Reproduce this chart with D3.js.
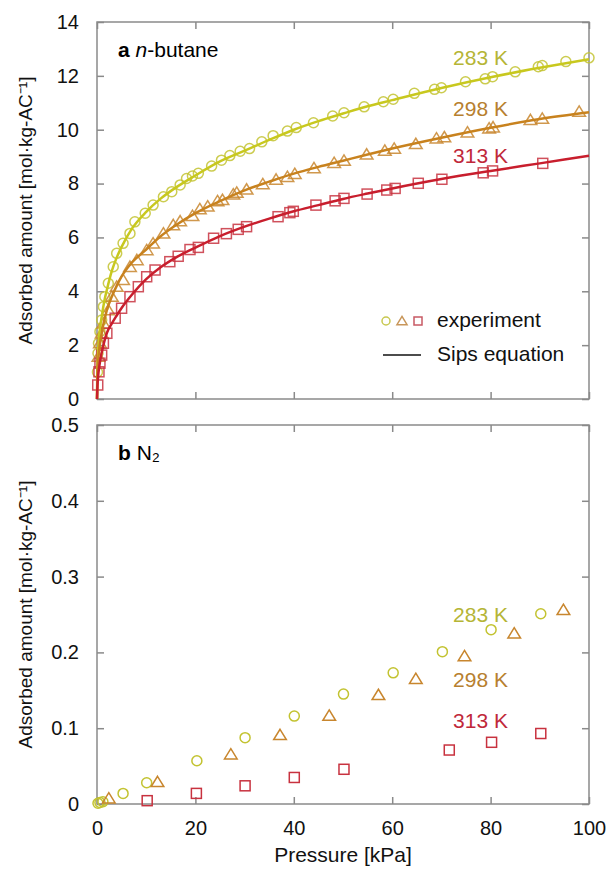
<!DOCTYPE html>
<html>
<head>
<meta charset="utf-8">
<script src="https://cdn.jsdelivr.net/npm/d3@7"></script>
<style>
  body { margin: 0; background: #fff; }
  svg { font-family: "Liberation Sans", Arial, sans-serif; }
</style>
</head>
<body>
<div class="grafico"></div>
<script>
// n-butane, experiment [P kPa, q mol/kg]
var butane283 = [[0.1,1.0],[0.2,1.7],[0.3,2.07],[0.6,2.5],[0.95,2.93],[1.3,3.43],[1.6,3.8],[2.3,4.3],[3.3,4.91],[4.0,5.41],[5.3,5.78],[6.7,6.15],[7.7,6.58],[9.8,6.9],[11.4,7.2],[13.5,7.51],[15.2,7.7],[16.9,7.95],[18.2,8.19],[19.4,8.28],[20.6,8.38],[23.3,8.65],[25.3,8.87],[27.0,9.04],[29.1,9.2],[31.0,9.3],[33.5,9.55],[35.8,9.78],[38.7,9.95],[40.5,10.08],[44.0,10.26],[47.9,10.51],[50.2,10.63],[54.3,10.85],[58.2,11.04],[60.2,11.13],[64.5,11.35],[68.6,11.5],[70.0,11.56],[74.9,11.78],[78.9,11.89],[80.4,11.97],[85.0,12.15],[89.7,12.34],[90.5,12.38],[95.3,12.53],[100,12.67]];
var butane298 = [[0.3,1.57],[0.6,2.07],[0.95,2.44],[1.3,2.81],[2.3,3.3],[3.0,3.8],[4.0,4.17],[5.3,4.42],[6.7,4.91],[8.1,5.16],[10.1,5.53],[11.4,5.78],[13.5,6.15],[15.5,6.46],[16.9,6.6],[19.4,6.8],[20.9,7.05],[22.5,7.15],[24.5,7.35],[25.5,7.39],[27.7,7.6],[28.4,7.66],[30.4,7.78],[33.7,7.98],[36.4,8.15],[38.7,8.25],[40.2,8.36],[44.1,8.57],[48.2,8.77],[50.2,8.85],[54.8,9.08],[58.5,9.22],[60.4,9.3],[64.8,9.47],[69.0,9.68],[70.6,9.72],[75.3,9.9],[79.7,10.05],[80.5,10.09],[88.1,10.36],[90.5,10.41],[98.0,10.67]];
var butane313 = [[0.15,0.52],[0.4,1.01],[0.6,1.33],[0.95,1.63],[1.3,2.07],[2.0,2.44],[3.7,3.0],[5.0,3.37],[6.7,3.8],[8.4,4.17],[10.1,4.54],[11.8,4.79],[14.8,5.1],[16.5,5.3],[18.9,5.55],[20.6,5.63],[23.7,5.97],[26.3,6.14],[28.7,6.3],[30.4,6.4],[36.8,6.77],[39.2,6.92],[39.9,6.97],[44.5,7.2],[48.4,7.36],[50.2,7.45],[54.9,7.61],[58.9,7.76],[60.6,7.82],[65.3,8.01],[70.1,8.16],[78.5,8.4],[80.4,8.47],[90.6,8.75]];

// Sips equation curves
var sips283 = [[0,0],[0.05,0.9],[0.2,1.7],[0.5,2.45],[1,3.1],[1.5,3.65],[2,4.05],[3,4.75],[4,5.25],[5,5.65],[7,6.3],[10,6.95],[13,7.45],[16,7.85],[20,8.3],[25,8.82],[30,9.22],[35,9.62],[40,10.0],[45,10.32],[50,10.6],[55,10.87],[60,11.1],[70,11.55],[80,11.95],[90,12.3],[100,12.62]];
var sips298 = [[0,0],[0.1,1.0],[0.3,1.55],[0.6,2.05],[1,2.5],[2,3.3],[3,3.8],[4,4.2],[5,4.55],[7,5.05],[10,5.55],[13,6.05],[16,6.45],[20,6.9],[25,7.35],[30,7.75],[35,8.07],[40,8.37],[45,8.62],[50,8.85],[55,9.08],[60,9.3],[70,9.7],[80,10.07],[90,10.4],[100,10.65]];
var sips313 = [[0,0],[0.1,0.5],[0.5,1.25],[1,1.75],[2,2.45],[3,2.8],[4,3.1],[5,3.38],[7,3.85],[10,4.45],[13,4.9],[16,5.25],[20,5.62],[25,6.05],[30,6.4],[35,6.7],[40,6.97],[45,7.2],[50,7.43],[55,7.63],[60,7.82],[70,8.17],[80,8.47],[90,8.75],[100,9.03]];

// N2, experiment
var n2_283 = [[0.2,0.001],[0.6,0.002],[1.2,0.003],[5.3,0.014],[10.1,0.028],[20.3,0.057],[30.1,0.0875],[40.1,0.116],[50.1,0.145],[60.2,0.173],[70.2,0.201],[80.1,0.230],[90.2,0.251]];
var n2_298 = [[2.4,0.0075],[12.3,0.029],[27.2,0.0655],[37.2,0.091],[47.2,0.1165],[57.2,0.1438],[64.8,0.165],[74.7,0.195],[84.8,0.225],[94.8,0.256]];
var n2_313 = [[10.2,0.0044],[20.2,0.014],[30.1,0.024],[40.1,0.035],[50.2,0.0458],[71.6,0.0712],[80.2,0.0814],[90.2,0.093]];

var temps = ["283 K", "298 K", "313 K"];
var xTicks = [0, 20, 40, 60, 80, 100];
var yTicksA = [0, 2, 4, 6, 8, 10, 12, 14];
var yTicksB = [0, 0.1, 0.2, 0.3, 0.4, 0.5];

var width = 608, height = 869;
var left = 97, right = 589;

var svg = d3.select(".grafico").append("svg")
  .attr("width", width)
  .attr("height", height);

var x = d3.scaleLinear().domain([0, 100]).range([left, right]);
var yA = d3.scaleLinear().domain([0, 14]).range([399, 22]);
var yB = d3.scaleLinear().domain([0, 0.5]).range([804, 425]);

var markerCol = ["#c3c331", "#c8862e", "#c8323f"];
var lineCol = ["#c8c81e", "#c8821e", "#c81e2d"];
var textCol = ["#b5b536", "#b7802f", "#c0283a"];
var frameCol = "#8a8a8a";

// frame + ticks for a panel
function drawFrame(y, yTicks, top, bottom, withXLabels) {
  var fmt = function(d){ return d === 0 ? "0" : (y === yB ? d3.format(".1f")(d) : d); };
  var g = svg.append("g");
  g.append("g").attr("transform", "translate(0," + bottom + ")")
    .call(d3.axisBottom(x).tickValues(xTicks).tickSize(-7).tickPadding(17)
      .tickFormat(withXLabels ? d3.format("d") : ""));
  g.append("g").attr("transform", "translate(0," + top + ")")
    .call(d3.axisTop(x).tickValues(xTicks).tickSize(-7).tickFormat(""));
  g.append("g").attr("transform", "translate(" + left + ",0)")
    .call(d3.axisLeft(y).tickValues(yTicks).tickSize(-7).tickPadding(18).tickFormat(fmt));
  g.append("g").attr("transform", "translate(" + right + ",0)")
    .call(d3.axisRight(y).tickValues(yTicks).tickSize(-7).tickFormat(""));
  g.selectAll(".domain").remove();
  g.selectAll(".tick line").attr("stroke", frameCol).attr("stroke-width", 1.5);
  g.selectAll(".tick text").attr("font-size", 20).attr("fill", "#111")
    .attr("font-family", "Liberation Sans, Arial, sans-serif");
  g.append("rect")
    .attr("x", left).attr("y", top)
    .attr("width", right - left).attr("height", bottom - top)
    .attr("fill", "none").attr("stroke", frameCol).attr("stroke-width", 1.5);
}

drawFrame(yA, yTicksA, 22, 399, false);
drawFrame(yB, yTicksB, 425, 804, true);

// markers
function marker(sel, kind, size) {
  if (kind === 0) {
    sel.append("circle").attr("r", size);
  } else if (kind === 1) {
    var s = size * 1.15;
    sel.append("path").attr("d", "M0," + (-s) + "L" + (s * 1.1) + "," + (s * 0.8) + "L" + (-s * 1.1) + "," + (s * 0.8) + "Z");
  } else {
    sel.append("rect").attr("x", -size).attr("y", -size).attr("width", 2 * size).attr("height", 2 * size);
  }
}

function drawPoints(data, y, kind, col, opacity) {
  var g = svg.append("g");
  data.forEach(function(d){
    var m = g.append("g").attr("transform", "translate(" + x(d[0]) + "," + y(d[1]) + ")");
    marker(m, kind, 5);
    m.selectAll("*").attr("fill", "none").attr("stroke", col)
      .attr("stroke-width", 1.5).attr("stroke-opacity", opacity);
  });
}

var line = function(y) {
  return d3.line().x(function(d){ return x(d[0]); }).y(function(d){ return y(d[1]); })
    .curve(d3.curveMonotoneX);
};

// panel a
[butane283, butane298, butane313].forEach(function(s, i){ drawPoints(s, yA, i, markerCol[i], 0.85); });
[sips283, sips298, sips313].forEach(function(s, i){
  svg.append("path").datum(s).attr("d", line(yA))
    .attr("fill", "none").attr("stroke", lineCol[i]).attr("stroke-width", 2.5);
});

// panel b
[n2_283, n2_298, n2_313].forEach(function(s, i){ drawPoints(s, yB, i, markerCol[i], 1); });

// temperature labels
var labA = [65, 116, 163], labB = [622, 687, 728];
temps.forEach(function(t, i){
  svg.append("text").attr("x", 508).attr("y", labA[i]).attr("text-anchor", "end")
    .attr("font-size", 21).attr("fill", textCol[i]).text(t);
  svg.append("text").attr("x", 508).attr("y", labB[i]).attr("text-anchor", "end")
    .attr("font-size", 21).attr("fill", textCol[i]).text(t);
});

// panel titles
var ta = svg.append("text").attr("x", 118).attr("y", 57).attr("font-size", 21);
ta.append("tspan").attr("font-weight", "bold").text("a ");
ta.append("tspan").attr("font-style", "italic").text("n");
ta.append("tspan").text("-butane");
var tb = svg.append("text").attr("x", 118).attr("y", 460).attr("font-size", 21);
tb.append("tspan").attr("font-weight", "bold").text("b ");
tb.append("tspan").text("N\u2082");

// legend
var legCols = ["#c8c850", "#c8965a", "#c85a64"];
[386, 402, 418].forEach(function(lx, i){
  var m = svg.append("g").attr("transform", "translate(" + lx + "," + 321 + ")");
  marker(m, i, 4);
  m.selectAll("*").attr("fill", "none").attr("stroke", legCols[i]).attr("stroke-width", 1.5);
});
svg.append("text").attr("x", 437).attr("y", 327).attr("font-size", 21).attr("fill", "#111").text("experiment");
svg.append("line").attr("x1", 383).attr("x2", 421).attr("y1", 355).attr("y2", 355)
  .attr("stroke", "#111").attr("stroke-width", 1.3);
svg.append("text").attr("x", 437).attr("y", 361).attr("font-size", 21).attr("fill", "#111").text("Sips equation");

// axis titles
var yTitle = "Adsorbed amount [mol\u00b7kg-AC\u207b\u00b9]";
[210.5, 614.5].forEach(function(cy){
  svg.append("text").attr("transform", "translate(32," + cy + ") rotate(-90)")
    .attr("text-anchor", "middle").attr("font-size", 19).attr("fill", "#111").text(yTitle);
});
svg.append("text").attr("x", 343).attr("y", 862).attr("text-anchor", "middle")
  .attr("font-size", 21).attr("fill", "#111").text("Pressure [kPa]");
</script>
</body>
</html>
